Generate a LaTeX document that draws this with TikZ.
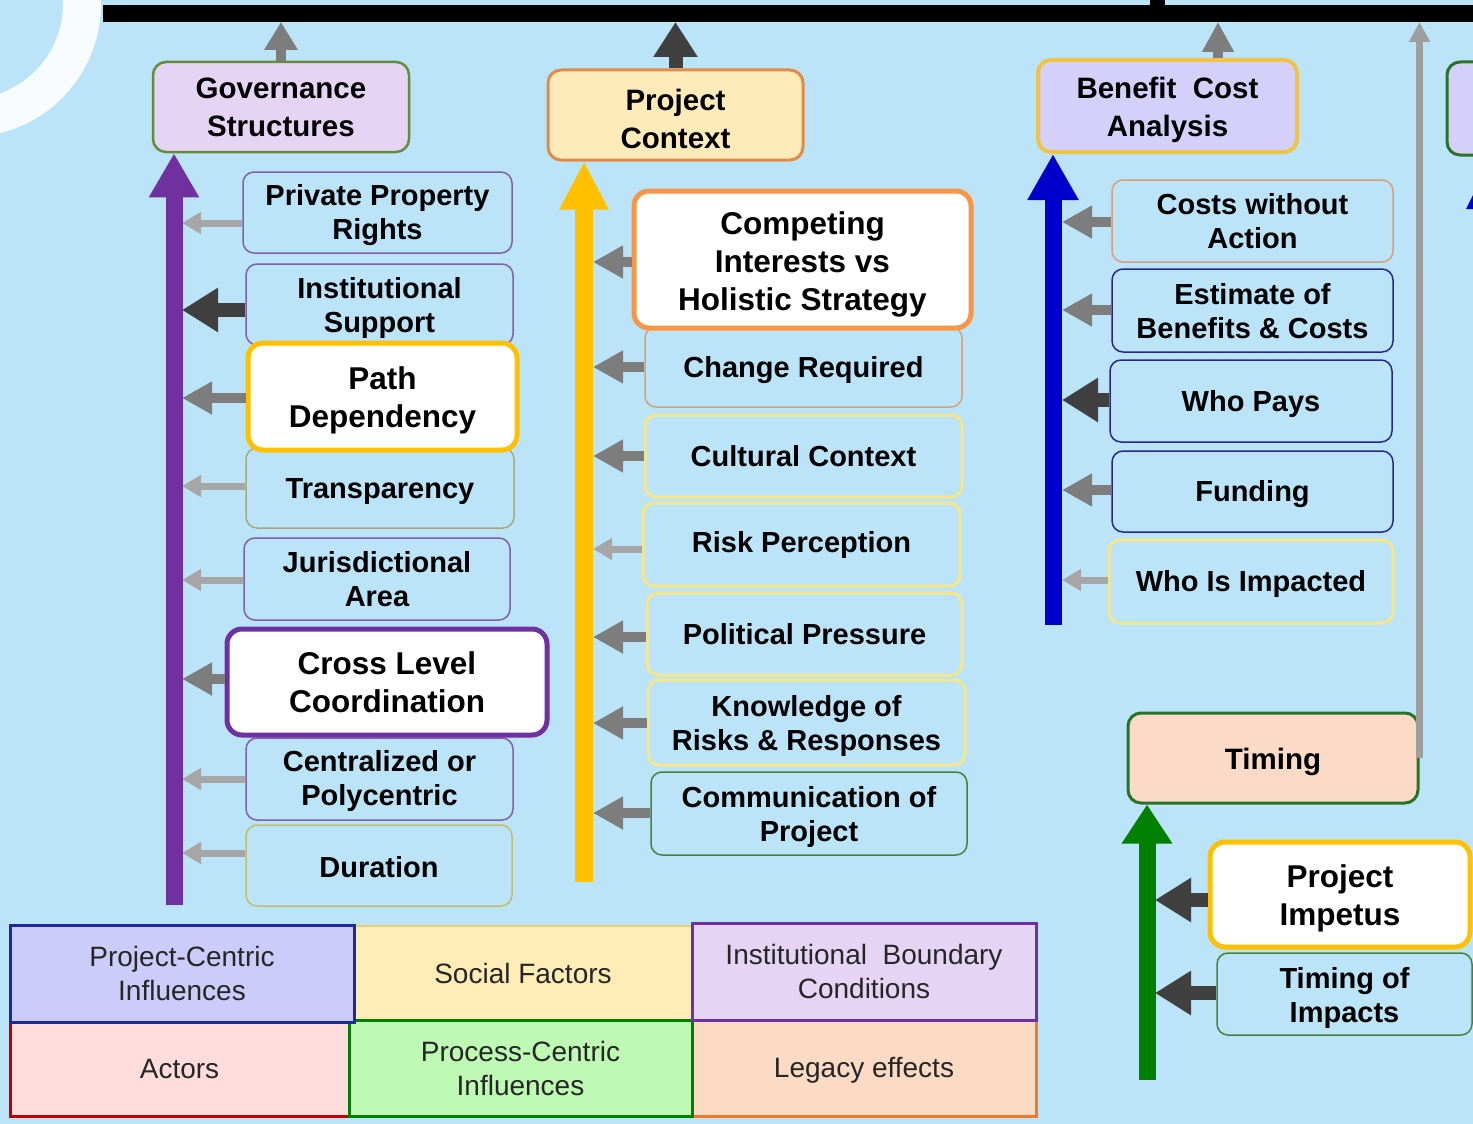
\documentclass[tikz,border=0pt]{standalone}
\usepackage{fontspec}
\setmainfont{Liberation Sans}
\usetikzlibrary{arrows.meta}
\newcommand\myStr[1]{\rule{0pt}{#1}}
\definecolor{bg}{RGB}{188,228,248}
\definecolor{purA}{RGB}{112,48,160}
\definecolor{yelA}{RGB}{255,192,0}
\definecolor{bluA}{RGB}{0,0,204}
\definecolor{grnA}{RGB}{0,128,0}
\definecolor{darkA}{RGB}{64,64,64}
\definecolor{medA}{RGB}{125,125,125}
\definecolor{lightA}{RGB}{166,166,166}
\definecolor{goldA}{RGB}{255,192,0}
\definecolor{orA}{RGB}{247,150,70}
\definecolor{purT}{RGB}{128,96,168}
\definecolor{oliveT}{RGB}{165,170,125}
\definecolor{oliveY}{RGB}{190,190,110}
\definecolor{tanT}{RGB}{215,160,120}
\definecolor{yelT}{RGB}{245,230,140}
\definecolor{bluT}{RGB}{40,40,140}
\definecolor{grnT}{RGB}{70,130,60}
\definecolor{govF}{RGB}{229,212,243}
\definecolor{govD}{RGB}{100,140,60}
\definecolor{pcF}{RGB}{255,234,185}
\definecolor{pcD}{RGB}{225,140,70}
\definecolor{bcaF}{RGB}{212,208,250}
\definecolor{bcaD}{RGB}{240,195,70}
\definecolor{tmgF}{RGB}{251,218,200}
\definecolor{tmgD}{RGB}{40,115,40}
\definecolor{lgB}{RGB}{204,204,250}
\definecolor{lgBd}{RGB}{30,40,160}
\definecolor{lgY}{RGB}{255,236,182}
\definecolor{lgYd}{RGB}{240,205,110}
\definecolor{lgP}{RGB}{230,212,245}
\definecolor{lgPd}{RGB}{112,48,160}
\definecolor{lgR}{RGB}{255,221,221}
\definecolor{lgRd}{RGB}{192,0,0}
\definecolor{lgG}{RGB}{190,250,180}
\definecolor{lgGd}{RGB}{0,128,0}
\definecolor{lgO}{RGB}{252,219,196}
\definecolor{lgOd}{RGB}{240,120,40}
\begin{document}
\begin{tikzpicture}[x=1pt,y=-1pt,
 itm/.style={draw, line width=1.5pt, rounded corners=11pt, align=center, inner sep=0pt, font=\fontsize{29pt}{34pt}\selectfont\bfseries},
 hlt/.style={draw, fill=white, line width=5pt, rounded corners=15pt, align=center, inner sep=0pt, font=\fontsize{31.5pt}{38pt}\selectfont\bfseries},
 ttl/.style={draw, line width=3pt, rounded corners=13pt, align=center, inner sep=0pt, font=\fontsize{29.5pt}{38pt}\selectfont\bfseries},
 lgd/.style={draw, line width=3pt, align=center, inner sep=0pt, font=\fontsize{28pt}{34pt}\selectfont, text=black!85},
 darr/.style={draw=darkA, line width=14pt, -{Triangle[width=42pt,length=36pt]}},
 marr/.style={draw=medA, line width=10pt, -{Triangle[width=31pt,length=30pt]}},
 larr/.style={draw=lightA, line width=7pt, -{Triangle[width=21pt,length=19pt]}},
 shaft/.style={line width=17pt, -{Triangle[width=47pt,length=44pt]}}
]
\useasboundingbox (0,0) rectangle (1473,1124);
\clip (0,0) rectangle (1473,1124);
\fill[bg] (0,0) rectangle (1473,1124);
% white arc
\draw[white, line width=38pt, opacity=0.9] (-32,4) circle[radius=114pt];
% top bar
\fill[black] (103,5) rectangle (1473,22);
\fill[black] (1150,0) rectangle (1165,5);
\coordinate (bar) at (0,22);
% shaft coordinates
\coordinate (pb) at (174,905); \coordinate (pr) at (182,0);
\coordinate (yb) at (584,882); \coordinate (yr) at (593,0);
\coordinate (bb) at (1053,625); \coordinate (br) at (1062,0);
\coordinate (gb) at (1147,1080); \coordinate (gr) at (1155,0);
\coordinate (bcat) at (1218,0);

% ---------------- title boxes
\node[ttl, draw=govD, fill=govF, line width=2.5pt, minimum width=256pt, minimum height=90pt] (gov) at (281,107) {Governance\\Structures};
\node[ttl, draw=pcD, fill=pcF, minimum width=255pt, minimum height=90pt] (pcx) at (675.5,115) {\myStr{28.5pt}Project\\Context};
\node[ttl, draw=bcaD, fill=bcaF, line width=4pt, minimum width=259pt, minimum height=92pt] (bca) at (1167.5,106) {\myStr{29.5pt}Benefit\ \ Cost\\Analysis};
\node[ttl, draw=tmgD, fill=tmgF, minimum width=290pt, minimum height=90pt] (tmg) at (1273,758) {\myStr{28.5pt}Timing};
\node[ttl, draw=tmgD, fill=bcaF, minimum width=150pt, minimum height=93pt] (rbx) at (1522,108.5) {};

% ---------------- purple column items
\node[itm, draw=purT, minimum width=269pt, minimum height=81pt] (ppr) at (377.5,212.5) {\myStr{26.5pt}Private Property\\Rights};
\node[itm, draw=purT, minimum width=267pt, minimum height=81pt] (ins) at (379.5,304.5) {\myStr{27.5pt}Institutional\\Support};
\node[itm, draw=oliveT, minimum width=268pt, minimum height=80pt] (trn) at (380,488) {\myStr{27pt}Transparency};
\node[itm, draw=purT, minimum width=266pt, minimum height=82pt] (jur) at (377,579) {Jurisdictional\\Area};
\node[itm, draw=purT, minimum width=267pt, minimum height=82pt] (cen) at (379.5,779) {\myStr{25pt}Centralized or\\Polycentric};
\node[itm, draw=oliveY, minimum width=266pt, minimum height=81pt] (dur) at (379,865.5) {\myStr{24pt}Duration};
\node[hlt, draw=goldA, minimum width=269pt, minimum height=107pt] (pdp) at (382.5,396.5) {\myStr{31pt}Path\\Dependency};
\node[hlt, draw=purA, minimum width=320pt, minimum height=106pt] (clc) at (387,682) {Cross Level\\Coordination};

% ---------------- yellow column items
\node[itm, draw=tanT, minimum width=317pt, minimum height=80pt] (chr) at (803.5,367) {\myStr{26.5pt}Change Required};
\node[itm, draw=yelT, line width=3pt, minimum width=317pt, minimum height=82pt] (cul) at (803.5,456) {Cultural Context};
\node[itm, draw=yelT, line width=3pt, minimum width=317pt, minimum height=83pt] (rsk) at (801.5,544.5) {Risk Perception};
\node[itm, draw=yelT, line width=3pt, minimum width=315pt, minimum height=82pt] (pol) at (804.5,634) {Political Pressure};
\node[itm, draw=yelT, line width=3pt, minimum width=317pt, minimum height=85pt] (kno) at (806.5,722.5) {\myStr{28pt}Knowledge of\\Risks \& Responses};
\node[itm, draw=grnT, minimum width=316pt, minimum height=83pt] (com) at (809,813.5) {\myStr{28pt}Communication of\\Project};
\node[hlt, draw=orA, minimum width=337pt, minimum height=137pt] (cis) at (802.5,259.5) {\myStr{33pt}Competing\\Interests vs\\Holistic Strategy};

% ---------------- blue column items
\node[itm, draw=tanT, minimum width=281pt, minimum height=82pt] (cwa) at (1252.5,221) {Costs without\\Action};
\node[itm, draw=bluT, minimum width=281pt, minimum height=83pt] (ebc) at (1252.5,310.5) {\myStr{23pt}Estimate of\\Benefits \& Costs};
\node[itm, draw=bluT, minimum width=282pt, minimum height=82pt] (wpy) at (1251,401) {\myStr{26.5pt}Who Pays};
\node[itm, draw=bluT, minimum width=281pt, minimum height=81pt] (fun) at (1252.5,491.5) {\myStr{26.5pt}Funding};
\node[itm, draw=yelT, line width=3pt, minimum width=284pt, minimum height=83pt] (wim) at (1251,581.5) {\myStr{26.5pt}Who Is Impacted};

% ---------------- green column items
\node[itm, draw=grnT, minimum width=255pt, minimum height=82pt] (tip) at (1344.5,994) {\myStr{28pt}Timing of\\Impacts};
\node[hlt, draw=goldA, minimum width=260pt, minimum height=105pt] (pim) at (1340,894.5) {\myStr{31pt}Project\\Impetus};

% ---------------- horizontal connectors
\draw[larr] (ppr.west |- 0,223) -- (pr |- 0,223);
\draw[darr] (ins.west |- 0,310) -- (pr |- 0,310);
\draw[marr] (pdp.west |- 0,398) -- (pr |- 0,398);
\draw[larr] (trn.west |- 0,486) -- (pr |- 0,486);
\draw[larr] (jur.west |- 0,580) -- (pr |- 0,580);
\draw[marr] (clc.west |- 0,679) -- (pr |- 0,679);
\draw[larr] (cen.west |- 0,779) -- (pr |- 0,779);
\draw[larr] (dur.west |- 0,853) -- (pr |- 0,853);

\draw[marr] (cis.west |- 0,262) -- (yr |- 0,262);
\draw[marr] (chr.west |- 0,367) -- (yr |- 0,367);
\draw[marr] (cul.west |- 0,456) -- (yr |- 0,456);
\draw[larr] (rsk.west |- 0,549) -- (yr |- 0,549);
\draw[marr] (pol.west |- 0,637) -- (yr |- 0,637);
\draw[marr] (kno.west |- 0,723) -- (yr |- 0,723);
\draw[marr] (com.west |- 0,813) -- (yr |- 0,813);

\draw[marr] (cwa.west |- 0,222) -- (br |- 0,222);
\draw[marr] (ebc.west |- 0,310) -- (br |- 0,310);
\draw[darr] (wpy.west |- 0,400) -- (br |- 0,400);
\draw[marr] (fun.west |- 0,490) -- (br |- 0,490);
\draw[larr] (wim.west |- 0,580) -- (br |- 0,580);

\draw[darr] (pim.west |- 0,900) -- (gr |- 0,900);
\draw[darr] (tip.west |- 0,993) -- (gr |- 0,993);

% ---------------- vertical shafts
\draw[shaft, draw=purA] (pb) -- (pb |- gov.south);
\draw[draw=yelA, line width=18pt, -{Triangle[width=46pt,length=48pt]}] (yb) -- (yb |- pcx.south);
\draw[draw=bluA, line width=17pt, -{Triangle[width=48pt,length=46pt]}] (bb) -- (bb |- bca.south);
\draw[draw=grnA, line width=17pt, -{Triangle[width=48pt,length=39pt]}] (gb) -- (gb |- tmg.south);
% partial blue arrow head at right edge
\fill[bluA] (1466,209) -- (1489,163) -- (1512,209) -- cycle;

% ---------------- arrows to the top bar
\draw[draw=medA, line width=10pt, -{Triangle[width=32pt,length=28pt]}] (gov.north) -- (gov.north |- bar);
\draw[draw=darkA, line width=14pt, -{Triangle[width=42pt,length=35pt]}] (pcx.north) -- (pcx.north |- bar);
\draw[draw=medA, line width=10pt, -{Triangle[width=30pt,length=30pt]}] (bca.north -| bcat) -- (bcat |- bar);
\draw[draw=lightA!95!black, line width=7pt, -{Triangle[width=20pt,length=20pt]}] (tmg.east) -- (tmg.east |- bar);

% ---------------- legend
\node[lgd, fill=lgY, draw=lgYd, line width=2pt, minimum width=338pt, minimum height=95pt] (soc) at (523,973.5) {Social Factors};
\node[lgd, fill=lgR, draw=lgRd, minimum width=339pt, minimum height=94pt] (act) at (179.5,1069) {Actors};
\node[lgd, fill=lgO, draw=lgOd, minimum width=344pt, minimum height=96pt] (leg) at (864,1068) {\myStr{24pt}Legacy effects};
\node[lgd, fill=lgG, draw=lgGd, minimum width=343pt, minimum height=96pt] (pro) at (520.5,1068) {Process-Centric\\Influences};
\node[lgd, fill=lgP, draw=lgPd, minimum width=344pt, minimum height=97pt] (ibc) at (864,971.5) {Institutional\ \ Boundary\\Conditions};
\node[lgd, fill=lgB, draw=lgBd, minimum width=344pt, minimum height=97pt] (prc) at (182,973.5) {Project-Centric\\Influences};
\end{tikzpicture}
\end{document}
